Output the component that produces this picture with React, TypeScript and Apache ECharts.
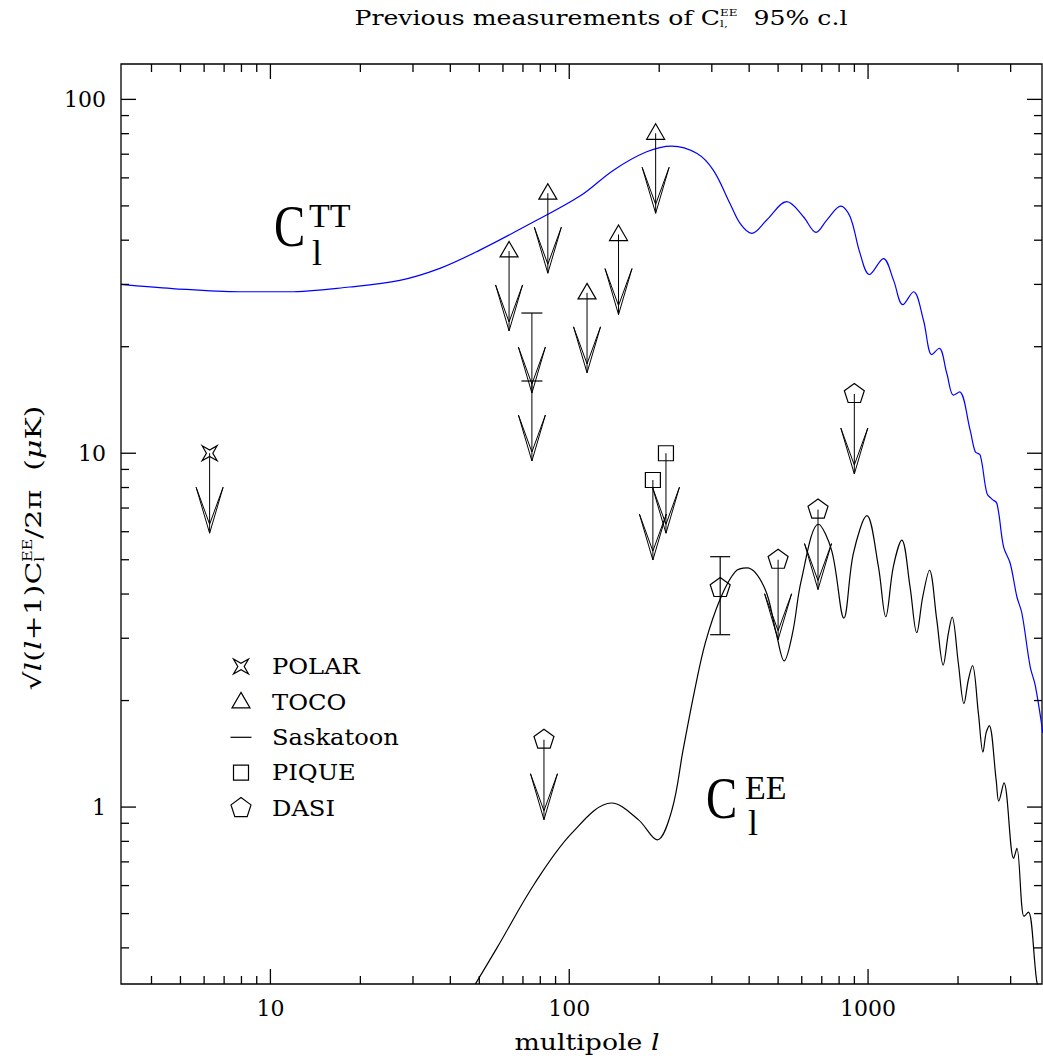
import React, { useEffect, useRef } from "react";
import * as echarts from "echarts";

// ---------- axis ranges ----------
const X_MIN = 3.1623;
const X_MAX = 3820;
const Y_MIN = 0.31623;
const Y_MAX = 125.89;

// ---------- theory curves ----------
const ttL = [3.16, 4.7, 7.9, 11.5, 18.4, 27.1, 36.9, 50.2, 72.1, 108.6, 140.7, 181.6, 220.3, 267, 303.4, 345, 373, 408, 458, 534.6, 607.6, 670, 727.6, 810.6, 871, 940, 1010, 1126, 1216, 1307, 1419, 1532, 1635, 1730, 1835, 1931, 2023, 2197, 2284, 2373, 2499, 2597, 2699, 2841, 2991, 3148, 3272, 3488, 3625, 3846];
const ttV = [30.0, 29.2, 28.6, 28.6, 29.5, 30.8, 33.3, 37.5, 44.0, 53.3, 63.1, 71.1, 73.8, 70.4, 63.1, 50.8, 44.6, 41.8, 45.6, 51.4, 46.6, 42.1, 45.6, 49.9, 46.6, 36.7, 32.0, 35.5, 30.9, 26.3, 28.6, 23.8, 19.0, 19.8, 16.8, 14.6, 14.9, 11.6, 10.1, 9.88, 7.7, 7.42, 7.21, 5.44, 4.88, 3.93, 3.53, 2.49, 2.21, 1.62];

const eeL = [48.5, 57.5, 76.6, 102, 138.6, 170.6, 196.8, 220.7, 240.6, 262, 285.6, 320.3, 359, 393.5, 451.6, 492, 523.7, 559.6, 597, 682, 756, 830, 893, 991, 1083, 1146, 1215, 1297, 1382, 1455, 1524, 1605, 1698, 1784, 1857, 1911, 2005, 2094, 2166, 2236, 2340, 2424, 2483, 2544, 2684, 2737, 2849, 3070, 3148, 3325, 3441, 3666, 3760];
const eeV = [0.316, 0.402, 0.608, 0.844, 1.027, 0.92, 0.808, 0.983, 1.455, 2.11, 2.92, 3.88, 4.62, 4.74, 4.14, 3.12, 2.59, 3.12, 4.35, 6.3, 5.3, 3.42, 5.21, 6.66, 4.78, 3.45, 4.78, 5.68, 4.19, 3.11, 3.93, 4.67, 3.38, 2.52, 3.1, 3.44, 2.55, 1.96, 2.29, 2.51, 1.84, 1.43, 1.62, 1.7, 1.19, 1.04, 1.17, 0.716, 0.765, 0.491, 0.505, 0.323, 0.3];

// ---------- measurements (95% upper limits unless noted) ----------
const polarL = [6.26];
const polarV = [10.0];
const tocoL = [62.9, 84.8, 114.7, 146.2, 194.6];
const tocoV = [37.3, 54.3, 28.4, 41.5, 80.2];
const saskL = [75, 75];
const saskV = [24.9, 16.0];
const piqueL = [190.5, 210.7];
const piqueV = [8.4, 10.0];
const dasiLimL = [82.3, 500, 680, 899.5];
const dasiLimV = [1.55, 5.0, 6.93, 14.7];
const dasiDetL = [320];
const dasiDetV = [4.16];
const dasiDetLo = [3.07];
const dasiDetHi = [5.1];

// ---------- ticks ----------
const xMajorTicks = [10, 100, 1000];
const xMinorTicks = [4, 5, 6, 7, 8, 9, 20, 30, 40, 50, 60, 70, 80, 90, 200, 300, 400, 500, 600, 700, 800, 900, 2000, 3000];
const yMajorTicks = [1, 10, 100];
const yMinorTicks = [0.4, 0.5, 0.6, 0.7, 0.8, 0.9, 2, 3, 4, 5, 6, 7, 8, 9, 20, 30, 40, 50, 60, 70, 80, 90];

const legendNames = ["POLAR", "TOCO", "Saskatoon", "PIQUE", "DASI"];
const legendShapes = ["star", "triangle", "dash", "square", "pentagon"];

const SERIF = '"DejaVu Serif", serif';
const TIMES = '"Liberation Serif", serif';
const INK = "#000";

type Pt = [number, number];
const pentPts: Pt[] = [0, 1, 2, 3, 4].map((k) => {
  const a = -Math.PI / 2 + (k * 2 * Math.PI) / 5;
  return [10.5 * Math.cos(a), 10.5 * Math.sin(a)] as Pt;
});
const SHAPES: Record<string, Pt[]> = {
  star: [[-7.5, -7.5], [0, -3.2], [7.5, -7.5], [3.2, 0], [7.5, 7.5], [0, 3.2], [-7.5, 7.5], [-3.2, 0]],
  triangle: [[0, -9.5], [9, 6], [-9, 6]],
  square: [[-7.5, -7.5], [7.5, -7.5], [7.5, 7.5], [-7.5, 7.5]],
  pentagon: pentPts,
};

function markerEl(shape: string, cx: number, cy: number): any {
  if (shape === "dash") {
    return { type: "line", shape: { x1: cx - 10.5, y1: cy, x2: cx + 10.5, y2: cy }, style: { stroke: INK, lineWidth: 1.2 } };
  }
  return {
    type: "polygon",
    shape: { points: SHAPES[shape].map(([x, y]) => [cx + x, cy + y]) },
    style: { fill: "none", stroke: INK, lineWidth: 1.2 },
  };
}

const ARROW = 80;
function arrowEls(cx: number, cy: number): any[] {
  const ty = cy + ARROW;
  const s = { stroke: INK, lineWidth: 1, fill: "none" };
  return [
    { type: "line", shape: { x1: cx, y1: cy, x2: cx, y2: ty }, style: { stroke: INK, lineWidth: 1 } },
    { type: "polyline", shape: { points: [[cx - 13.5, ty - 46], [cx, ty], [cx + 13.5, ty - 46]] }, style: s },
    { type: "polyline", shape: { points: [[cx - 13.5, ty - 46], [cx, ty - 9], [cx + 13.5, ty - 46]] }, style: s },
  ];
}

function limitSeries(name: string, shape: string, L: number[], V: number[]): any {
  return {
    type: "custom",
    name,
    coordinateSystem: "cartesian2d",
    silent: true,
    z: 5,
    data: L.map((l, i) => [l, V[i]]),
    encode: { x: 0, y: 1 },
    renderItem: (_p: any, api: any) => {
      const c = api.coord([api.value(0), api.value(1)]);
      return { type: "group", children: [...arrowEls(c[0], c[1]), markerEl(shape, c[0], c[1])] };
    },
  };
}

function tickSeries(axis: "x" | "y"): any {
  const data =
    axis === "x"
      ? [...xMajorTicks.map((v) => [v, Y_MIN, 1]), ...xMinorTicks.map((v) => [v, Y_MIN, 0])]
      : [...yMajorTicks.map((v) => [X_MIN, v, 1]), ...yMinorTicks.map((v) => [X_MIN, v, 0])];
  return {
    type: "custom",
    coordinateSystem: "cartesian2d",
    silent: true,
    z: 6,
    data,
    encode: { x: 0, y: 1 },
    renderItem: (params: any, api: any) => {
      const cs = params.coordSys;
      const len = api.value(2) === 1 ? 15 : 8;
      const st = { stroke: INK, lineWidth: 1.3 };
      if (axis === "x") {
        const px = api.coord([api.value(0), Y_MIN])[0];
        const b = cs.y + cs.height;
        return {
          type: "group",
          children: [
            { type: "line", shape: { x1: px, y1: b, x2: px, y2: b - len }, style: st },
            { type: "line", shape: { x1: px, y1: cs.y, x2: px, y2: cs.y + len }, style: st },
          ],
        };
      }
      const py = api.coord([X_MIN, api.value(1)])[1];
      const r = cs.x + cs.width;
      return {
        type: "group",
        children: [
          { type: "line", shape: { x1: cs.x, y1: py, x2: cs.x + len, y2: py }, style: st },
          { type: "line", shape: { x1: r, y1: py, x2: r - len, y2: py }, style: st },
        ],
      };
    },
  };
}

// ---------- text helpers ----------
let measureCtx: CanvasRenderingContext2D | null = null;
function tw(text: string, size: number, family: string, italic?: boolean): number {
  if (!measureCtx) measureCtx = document.createElement("canvas").getContext("2d");
  measureCtx!.font = `${italic ? "italic " : ""}${size}px ${family}`;
  return measureCtx!.measureText(text).width;
}

type Seg = { t: string; size: number; italic?: boolean; dy: number; adv: boolean };
function segGroup(segs: Seg[], cx: number, cy: number, targetWidth: number, rotation = 0): any {
  const items: any[] = [];
  let x = 0;
  let pending = 0;
  for (const s of segs) {
    const w = tw(s.t, s.size, SERIF, s.italic);
    items.push({
      type: "text",
      x,
      y: s.dy,
      style: {
        text: s.t,
        fontSize: s.size,
        fontFamily: SERIF,
        fontStyle: s.italic ? "italic" : "normal",
        fill: INK,
        lineHeight: Math.round(s.size * 0.9),
        textAlign: "left",
        textVerticalAlign: "middle",
        align: "left",
        verticalAlign: "middle",
      },
    });
    if (s.adv) {
      x += Math.max(w, pending);
      pending = 0;
    } else {
      pending = Math.max(pending, w);
    }
  }
  const total = x + pending;
  items.forEach((it) => (it.x -= total / 2));
  const sx = total > 0 ? targetWidth / total : 1;
  return { type: "group", x: cx, y: cy, rotation, scaleX: sx, children: items };
}

function bigText(t: string, x: number, y: number, size: number, scaleX = 1): any {
  return {
    type: "text",
    x,
    y,
    scaleX,
    style: {
      text: t,
      fontSize: size,
      fontFamily: TIMES,
      fill: INK,
      lineHeight: Math.round(size * 0.75),
      textAlign: "left",
      textVerticalAlign: "middle",
      align: "left",
      verticalAlign: "middle",
    },
  };
}

function isPow10(v: number): boolean {
  const l = Math.log10(v);
  return Math.abs(l - Math.round(l)) < 1e-6;
}

export default function App() {
  const ref = useRef<HTMLDivElement>(null);
  useEffect(() => {
    document.body.style.margin = "0";
    document.body.style.overflow = "hidden";
    const chart = echarts.init(ref.current!, null, { renderer: "svg" });

    const legendEls: any[] = [];
    legendNames.forEach((n, i) => {
      const y = 666.5 + i * 35.4;
      legendEls.push(markerEl(legendShapes[i], 241, y));
      legendEls.push({
        type: "text",
        x: 272,
        y,
        scaleX: 1.1,
        style: { text: n, fontSize: 22, fontFamily: SERIF, fill: INK, textAlign: "left", textVerticalAlign: "middle", align: "left", verticalAlign: "middle" },
      });
    });

    const title = segGroup(
      [
        { t: "Previous measurements of C", size: 21, dy: 0, adv: true },
        { t: "EE", size: 10, dy: -5, adv: false },
        { t: "l,", size: 10, dy: 6, adv: true },
        { t: "  95% c.l", size: 21, dy: 0, adv: true },
      ],
      601,
      18,
      493
    );
    const yName = segGroup(
      [
        { t: "√", size: 23, dy: 0, adv: true },
        { t: "l", size: 23, italic: true, dy: 0, adv: true },
        { t: "(", size: 23, dy: 0, adv: true },
        { t: "l", size: 23, italic: true, dy: 0, adv: true },
        { t: "+1)C", size: 23, dy: 0, adv: true },
        { t: "EE", size: 12, dy: -5, adv: false },
        { t: "l", size: 12, dy: 7, adv: true },
        { t: "/2π  (", size: 23, dy: 0, adv: true },
        { t: "μ", size: 23, italic: true, dy: 0, adv: true },
        { t: "K)", size: 23, dy: 0, adv: true },
      ],
      33,
      548,
      285,
      Math.PI / 2
    );
    const xName = segGroup(
      [
        { t: "multipole ", size: 22, dy: 0, adv: true },
        { t: "l", size: 22, italic: true, dy: 0, adv: true },
      ],
      587,
      1042,
      145
    );

    const axisLabel = {
      fontFamily: SERIF,
      fontSize: 22,
      color: INK,
      showMinLabel: false,
      showMaxLabel: false,
      formatter: (v: number) => (isPow10(v) ? String(Math.round(v)) : ""),
    };

    chart.setOption({
      animation: false,
      backgroundColor: "#fff",
      grid: { left: 121, top: 64, width: 921, height: 920, show: true, borderColor: INK, borderWidth: 1.3, backgroundColor: "transparent" },
      xAxis: {
        type: "log",
        logBase: 10,
        min: X_MIN,
        max: X_MAX,
        axisLine: { show: false },
        axisTick: { show: false },
        minorTick: { show: false },
        splitLine: { show: false },
        axisLabel: { ...axisLabel, margin: 13 },
      },
      yAxis: {
        type: "log",
        logBase: 10,
        min: Y_MIN,
        max: Y_MAX,
        axisLine: { show: false },
        axisTick: { show: false },
        minorTick: { show: false },
        splitLine: { show: false },
        axisLabel: { ...axisLabel, margin: 15 },
      },
      series: [
        {
          type: "line",
          name: "TT",
          data: ttL.map((l, i) => [l, ttV[i]]),
          showSymbol: false,
          symbol: "none",
          smooth: 0.35,
          clip: true,
          silent: true,
          lineStyle: { color: "#0000ff", width: 1.2 },
        },
        {
          type: "line",
          name: "EE",
          data: eeL.map((l, i) => [l, eeV[i]]),
          showSymbol: false,
          symbol: "none",
          smooth: 0.35,
          clip: true,
          silent: true,
          lineStyle: { color: INK, width: 1.2 },
        },
        limitSeries("POLAR", "star", polarL, polarV),
        limitSeries("TOCO", "triangle", tocoL, tocoV),
        limitSeries("Saskatoon", "dash", saskL, saskV),
        limitSeries("PIQUE", "square", piqueL, piqueV),
        limitSeries("DASI", "pentagon", dasiLimL, dasiLimV),
        {
          type: "custom",
          name: "DASI detection",
          coordinateSystem: "cartesian2d",
          silent: true,
          z: 5,
          data: dasiDetL.map((l, i) => [l, dasiDetV[i], dasiDetLo[i], dasiDetHi[i]]),
          encode: { x: 0, y: 1 },
          renderItem: (_p: any, api: any) => {
            const l = api.value(0);
            const c = api.coord([l, api.value(1)]);
            const lo = api.coord([l, api.value(2)]);
            const hi = api.coord([l, api.value(3)]);
            const st = { stroke: INK, lineWidth: 1.2 };
            return {
              type: "group",
              children: [
                { type: "line", shape: { x1: c[0], y1: lo[1], x2: c[0], y2: hi[1] }, style: st },
                { type: "line", shape: { x1: c[0] - 10, y1: lo[1], x2: c[0] + 10, y2: lo[1] }, style: st },
                { type: "line", shape: { x1: c[0] - 10, y1: hi[1], x2: c[0] + 10, y2: hi[1] }, style: st },
                markerEl("pentagon", c[0], c[1]),
              ],
            };
          },
        },
        tickSeries("x"),
        tickSeries("y"),
      ],
      graphic: [
        title,
        yName,
        xName,
        ...legendEls,
        bigText("C", 274, 226, 60, 0.78),
        bigText("TT", 309, 215, 34),
        bigText("l", 312, 253, 36),
        bigText("C", 706, 798, 60, 0.78),
        bigText("EE", 745, 787, 34),
        bigText("l", 748, 823, 36),
      ],
    });
    return () => chart.dispose();
  }, []);
  return <div ref={ref} style={{ position: "fixed", left: 0, top: 0, width: 1043, height: 1059 }} />;
}
